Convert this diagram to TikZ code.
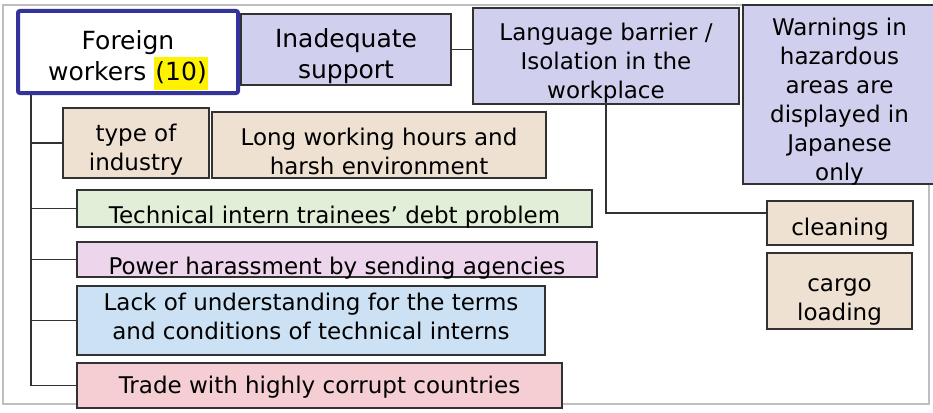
\documentclass[tikz,border=0pt]{standalone}
\usepackage{fontspec}
\setmainfont{DejaVu Sans}
\usetikzlibrary{positioning}

\definecolor{lavender}{RGB}{208,208,238}
\definecolor{tan}{RGB}{238,225,210}
\definecolor{paleGreen}{RGB}{226,239,216}
\definecolor{paleLilac}{RGB}{237,213,235}
\definecolor{paleBlue}{RGB}{204,225,244}
\definecolor{paleRose}{RGB}{245,206,212}
\definecolor{boxLine}{RGB}{50,50,50}
\definecolor{topBlue}{RGB}{51,51,153}
\definecolor{frameGray}{RGB}{190,190,190}

\begin{document}
\begin{tikzpicture}[x=1pt, y=-1pt, font=\fontsize{23}{29}\selectfont]
				\useasboundingbox (0,0) rectangle (933,412);
				\setlength{\fboxsep}{1pt}
				% Setup the style for the boxes
				\tikzset{box style/.style={draw=boxLine,
											line width=1.2pt,
											inner xsep=0pt,
											inner ysep=0pt,
											align=center},
						 big text/.style={font=\fontsize{25}{31}\selectfont}}
				% Draw the frame
				\draw[line width=2.5pt, draw=frameGray] (3,5) rectangle (929,404);
				% Draw the boxes
				\node[box style, big text, draw=topBlue, line width=4pt, rounded corners=2pt, fill=white,
					  minimum width=220, text height=69, text depth=13] at (128,52) (fw)
					{Foreign\\workers \colorbox{yellow}{\strut(10)}};
				\node[box style, big text, fill=lavender, minimum width=210, text height=64, text depth=7]
					at (346,49.5) (inad) {Inadequate\\support};
				\node[box style, fill=lavender, minimum width=266, text height=90, text depth=6]
					at (606,56) (lang) {Language barrier /\\Isolation in the\\workplace};
				\node[box style, fill=lavender, minimum width=193, text height=175, text depth=4]
					at (839.5,94.5) (warn) {Warnings in\\hazardous\\areas are\\displayed in\\Japanese\\only};
				\node[box style, fill=tan, minimum width=146, text height=62, text depth=8]
					at (136,143) (type) {type of\\industry};
				\node[box style, fill=tan, minimum width=334, text height=62, text depth=4]
					at (379,145) (long) {Long working hours and\\harsh environment};
				\node[box style, fill=paleGreen, minimum width=515, text height=33, text depth=4]
					at (334.5,208.5) (tech) {Technical intern trainees’ debt problem};
				\node[box style, fill=paleLilac, minimum width=520, text height=32, text depth=3]
					at (337,259.5) (power) {Power harassment by sending agencies};
				\node[box style, fill=paleBlue, minimum width=468, text height=53, text depth=16]
					at (311,320.5) (lack) {Lack of understanding for the terms\\and conditions of technical interns};
				\node[box style, fill=paleRose, minimum width=485, text height=30, text depth=15]
					at (319.5,385.5) (trade) {Trade with highly corrupt countries};
				\node[box style, fill=tan, minimum width=146, text height=34, text depth=10]
					at (840,223) (clean) {cleaning};
				\node[box style, fill=tan, minimum width=145, text height=67, text depth=9]
					at (839.5,291) (cargo) {cargo\\loading};
				% Connect the boxes
				\coordinate[right=15pt of fw.south west] (trunk);
				\draw[line width=1.2pt, draw=boxLine]
					(trunk) |- (trade.west)
					(type.west) -- (type.west -| trunk)
					(tech.west) -- (tech.west -| trunk)
					(power.west) -- (power.west -| trunk)
					(lack.west) -- (lack.west -| trunk)
					(inad.east) -- (inad.east -| lang.west)
					(lang.south) |- ([yshift=10pt]clean.west);
\end{tikzpicture}
\end{document}
